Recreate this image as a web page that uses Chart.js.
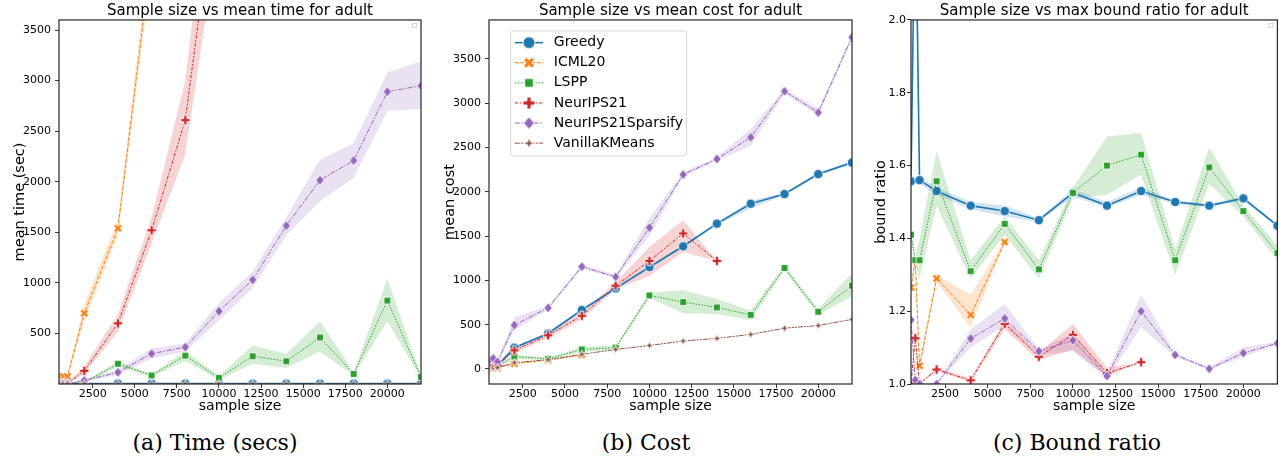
<!DOCTYPE html>
<html>
<head>
<meta charset="utf-8">
<script src="https://cdn.jsdelivr.net/npm/chart.js@4.4.1/dist/chart.umd.min.js"></script>
<style>
  body { margin: 0; background: #fff; }
  #wrap { position: relative; width: 1283px; height: 456px; overflow: hidden; }
  canvas { position: absolute; top: 0; }
  .cap { position: absolute; top: 430px; font-family: 'DejaVu Serif', serif; font-size: 22px; line-height: 26px; transform: translateX(-50%); white-space: nowrap; color: #000; }
</style>
</head>
<body>
<div id="wrap">
  <canvas id="timeChart" width="430" height="418" style="left:0px"></canvas>
  <canvas id="costChart" width="430" height="418" style="left:430px"></canvas>
  <canvas id="ratioChart" width="423" height="418" style="left:860px"></canvas>
  <div class="cap" style="left:215px">(a) Time (secs)</div>
  <div class="cap" style="left:646px">(b) Cost</div>
  <div class="cap" style="left:1077px">(c) Bound ratio</div>
</div>
<script>
// x values shared by all three panels
const sampleSizes = [500, 750, 1000, 2000, 4000, 6000, 8000, 10000, 12000, 14000, 16000, 18000, 20000, 22000];
const xTicks = [2500, 5000, 7500, 10000, 12500, 15000, 17500, 20000];
const timeTicks = [500, 1000, 1500, 2000, 2500, 3000, 3500];
const costTicks = [0, 500, 1000, 1500, 2000, 2500, 3000, 3500];
const ratioTicks = [1.0, 1.2, 1.4, 1.6, 1.8, 2.0];
const methods = ['Greedy', 'ICML20', 'LSPP', 'NeurIPS21', 'NeurIPS21Sparsify', 'VanillaKMeans'];

// (a) mean time
const greedyTime = [4, 4, 4, 4, 4, 4, 4, 4, 4, 4, 4, 4, 4, 4];
const icmlTime = [75, 75, 75, 700, 1540, 4270];
const icmlTimeLo = [60, 60, 60, 620, 1470, 4100];
const icmlTimeHi = [90, 90, 90, 790, 1620, 4450];
const lsppTime = [3, 3, 3, 15, 200, 85, 280, 60, 275, 225, 460, 100, 825, 70];
const lsppTimeLo = [0, 0, 0, 10, 170, 70, 230, 40, 200, 160, 320, 85, 620, 55];
const lsppTimeHi = [6, 6, 6, 25, 225, 100, 330, 80, 380, 300, 620, 115, 1040, 85];
const neuripsTime = [5, 5, 5, 130, 600, 1520, 2610, 5130];
const neuripsTimeLo = [0, 0, 0, 100, 520, 1390, 2270, 4500];
const neuripsTimeHi = [10, 10, 10, 170, 690, 1650, 3000, 5800];
const sparsifyTime = [5, 5, 5, 35, 115, 300, 365, 720, 1030, 1565, 2015, 2210, 2890, 2950];
const sparsifyTimeLo = [0, 0, 0, 25, 90, 255, 320, 630, 950, 1470, 1810, 2040, 2700, 2720];
const sparsifyTimeHi = [10, 10, 10, 45, 140, 350, 400, 800, 1110, 1650, 2220, 2380, 3080, 3190];
const vanillaTime = [2, 2, 2, 2, 2, 2, 2, 2, 2, 2, 2, 2, 2, 2];

// (b) mean cost
const greedyCost = [40, 40, 40, 240, 400, 665, 910, 1150, 1385, 1640, 1865, 1975, 2200, 2330];
const greedyCostLo = [30, 30, 30, 225, 385, 650, 895, 1130, 1370, 1625, 1810, 1960, 2185, 2310];
const greedyCostHi = [50, 50, 50, 255, 415, 680, 925, 1170, 1400, 1655, 1900, 1990, 2215, 2350];
const icmlCost = [8, 10, 12, 60, 100, 160];
const lsppCost = [20, 30, 30, 140, 115, 220, 240, 830, 755, 695, 610, 1140, 645, 940];
const lsppCostLo = [10, 20, 20, 110, 100, 190, 215, 800, 630, 620, 550, 1110, 610, 820];
const lsppCostHi = [30, 40, 40, 160, 130, 250, 265, 860, 890, 790, 660, 1170, 680, 1080];
const neuripsCost = [40, 40, 40, 210, 380, 600, 940, 1220, 1530, 1220];
const neuripsCostLo = [30, 30, 30, 180, 350, 560, 900, 1050, 1320, 1220];
const neuripsCostHi = [50, 50, 50, 240, 410, 640, 980, 1380, 1680, 1220];
const sparsifyCost = [100, 120, 80, 495, 690, 1155, 1040, 1595, 2195, 2370, 2615, 3135, 2895, 3745];
const sparsifyCostLo = [80, 100, 60, 440, 670, 1130, 1020, 1500, 2170, 2350, 2520, 3110, 2860, 3720];
const sparsifyCostHi = [120, 140, 100, 580, 710, 1180, 1060, 1700, 2220, 2390, 2710, 3160, 2940, 3770];
const vanillaCost = [10, 12, 15, 70, 105, 165, 220, 265, 315, 345, 390, 460, 490, 560];

// (c) max bound ratio
const greedyRatio = [1.557, 2.4, 1.56, 1.53, 1.49, 1.475, 1.45, 1.525, 1.49, 1.53, 1.50, 1.49, 1.51, 1.435];
const greedyRatioLo = [1.55, 2.2, 1.55, 1.52, 1.48, 1.46, 1.445, 1.515, 1.485, 1.52, 1.495, 1.485, 1.505, 1.43];
const greedyRatioHi = [1.565, 2.6, 1.57, 1.54, 1.5, 1.49, 1.455, 1.535, 1.5, 1.54, 1.505, 1.495, 1.515, 1.44];
const icmlRatio = [1.265, 1.34, 1.05, 1.29, 1.19, 1.39];
const icmlRatioLo = [1.26, 1.33, 1.04, 1.28, 1.155, 1.385];
const icmlRatioHi = [1.27, 1.35, 1.06, 1.3, 1.245, 1.395];
const lsppRatio = [1.41, 1.34, 1.34, 1.557, 1.31, 1.44, 1.315, 1.525, 1.6, 1.63, 1.34, 1.595, 1.475, 1.36];
const lsppRatioLo = [1.40, 1.33, 1.29, 1.49, 1.29, 1.41, 1.29, 1.51, 1.52, 1.575, 1.30, 1.55, 1.46, 1.34];
const lsppRatioHi = [1.42, 1.35, 1.40, 1.64, 1.34, 1.46, 1.34, 1.54, 1.68, 1.69, 1.37, 1.65, 1.49, 1.38];
const neuripsRatio = [1.0, 1.126, 1.0, 1.04, 1.01, 1.165, 1.075, 1.135, 1.03, 1.06];
const neuripsRatioLo = [1.0, 1.12, 1.0, 1.035, 1.005, 1.15, 1.065, 1.095, 1.02, 1.06];
const neuripsRatioHi = [1.0, 1.13, 1.0, 1.045, 1.015, 1.175, 1.085, 1.165, 1.045, 1.06];
const sparsifyRatio = [1.176, 1.011, 1.0, 1.0, 1.125, 1.18, 1.09, 1.12, 1.022, 1.2, 1.08, 1.042, 1.085, 1.112];
const sparsifyRatioLo = [1.17, 1.005, 1.0, 1.0, 1.10, 1.16, 1.08, 1.09, 1.015, 1.155, 1.075, 1.038, 1.075, 1.108];
const sparsifyRatioHi = [1.18, 1.015, 1.0, 1.0, 1.15, 1.22, 1.095, 1.14, 1.03, 1.245, 1.085, 1.046, 1.10, 1.116];

const FONT = '"DejaVu Sans", sans-serif';

const styles = {
  Greedy:            { color: '#1f77b4', dash: [],                 width: 1.6, marker: 'circle',  size: 9.5 },
  ICML20:            { color: '#ff7f0e', dash: [4, 1.5],           width: 1,   marker: 'x',       size: 9 },
  LSPP:              { color: '#2ca02c', dash: [1.5, 1.5],         width: 1,   marker: 'square',  size: 9.5 },
  NeurIPS21:         { color: '#d62728', dash: [3.5, 1.5, 1.5, 1.5], width: 1, marker: 'plus',    size: 9.5 },
  NeurIPS21Sparsify: { color: '#9467bd', dash: [5, 1.5, 1.5, 1.5], width: 1,   marker: 'diamond', size: 10 },
  VanillaKMeans:     { color: '#8c564b', dash: [5, 1, 2, 1, 2, 1], width: 1,   marker: 'star',    size: 8.5 }
};

function alpha(hex, a) {
  const n = parseInt(hex.slice(1), 16);
  return `rgba(${n >> 16},${(n >> 8) & 255},${n & 255},${a})`;
}

function markerPath(g, shape, r) {
  g.beginPath();
  if (shape === 'circle') {
    g.arc(0, 0, r, 0, Math.PI * 2);
  } else if (shape === 'square') {
    const h = r * 0.72;
    g.rect(-h, -h, 2 * h, 2 * h);
  } else if (shape === 'diamond') {
    g.moveTo(0, -r); g.lineTo(r * 0.85, 0); g.lineTo(0, r); g.lineTo(-r * 0.85, 0); g.closePath();
  } else if (shape === 'star') {
    for (let i = 0; i < 8; i++) {
      const a = -Math.PI / 2 + i * Math.PI / 4;
      const rr = i % 2 ? r * 0.4 : r;
      g.lineTo(Math.cos(a) * rr, Math.sin(a) * rr);
    }
    g.closePath();
  } else {
    // plus / x : filled cross
    const w = r * 0.34;
    const pts = [[-w, -r], [w, -r], [w, -w], [r, -w], [r, w], [w, w], [w, r], [-w, r], [-w, w], [-r, w], [-r, -w], [-w, -w]];
    const rot = shape === 'x' ? Math.PI / 4 : 0;
    pts.forEach(([px, py]) => {
      g.lineTo(px * Math.cos(rot) - py * Math.sin(rot), px * Math.sin(rot) + py * Math.cos(rot));
    });
    g.closePath();
  }
}

function makeMarker(name, scale) {
  const st = styles[name];
  const size = st.size * scale;
  const c = document.createElement('canvas');
  c.width = c.height = Math.ceil(size + 4);
  const g = c.getContext('2d');
  g.translate(c.width / 2, c.height / 2);
  markerPath(g, st.marker, size / 2);
  g.fillStyle = st.color;
  g.fill();
  g.lineWidth = 0.9;
  g.strokeStyle = '#fff';
  g.stroke();
  return c;
}

const plotMarkers = {};
const legendMarkers = {};
methods.forEach(m => { plotMarkers[m] = makeMarker(m, 1); legendMarkers[m] = makeMarker(m, 1.25); });

function toPoints(ys) {
  return ys.map((y, i) => ({ x: sampleSizes[i], y })).filter(p => p.y !== null && p.y !== undefined);
}

function buildDatasets(series) {
  const out = [];
  series.forEach(s => {
    const st = styles[s.name];
    const idx = methods.indexOf(s.name);
    if (s.lo && s.hi) {
      out.push({ label: s.name + ' lo', data: toPoints(s.lo), borderWidth: 0, pointRadius: 0, fill: false, order: 20 });
      out.push({ label: s.name + ' hi', data: toPoints(s.hi), borderWidth: 0, pointRadius: 0,
                 fill: '-1', backgroundColor: alpha(st.color, 0.2), order: 20 });
    }
    out.push({
      label: s.name, data: toPoints(s.mean),
      borderColor: st.color, backgroundColor: st.color, borderWidth: st.width, borderDash: st.dash,
      pointStyle: plotMarkers[s.name], pointRadius: 4, fill: false, tension: 0, order: 10 - idx
    });
  });
  return out;
}

const framePlugin = {
  id: 'frame',
  afterDatasetsDraw(chart, args, opts) {
    const { ctx, chartArea: a } = chart;
    ctx.save();
    ctx.strokeStyle = '#262626';
    ctx.lineWidth = 1.2;
    ctx.strokeRect(a.left, a.top, a.right - a.left, a.bottom - a.top);
    if (opts.emptyBox) {
      ctx.strokeStyle = '#d4d4d4';
      ctx.lineWidth = 1;
      ctx.strokeRect(a.right - 8.5, a.top + 3.5, 4, 4);
    }
    ctx.restore();
  }
};

const boxLegend = {
  id: 'boxLegend',
  afterDraw(chart, args, opts) {
    if (!opts.items) return;
    const { ctx, chartArea: a } = chart;
    const x0 = a.left + 21.5, y0 = a.top + 11, w = 176, h = 125;
    ctx.save();
    ctx.beginPath();
    ctx.roundRect(x0, y0, w, h, 3);
    ctx.fillStyle = 'rgba(255,255,255,0.8)';
    ctx.fill();
    ctx.strokeStyle = '#d6d6d6';
    ctx.lineWidth = 1;
    ctx.stroke();
    opts.items.forEach((name, i) => {
      const st = styles[name];
      const y = y0 + 11.7 + i * 20.1;
      ctx.beginPath();
      ctx.setLineDash(st.dash);
      ctx.strokeStyle = st.color;
      ctx.lineWidth = st.width;
      ctx.moveTo(x0 + 4.3, y);
      ctx.lineTo(x0 + 32.6, y);
      ctx.stroke();
      ctx.setLineDash([]);
      const m = legendMarkers[name];
      ctx.drawImage(m, x0 + 18.5 - m.width / 2, y - m.height / 2);
      ctx.fillStyle = '#000';
      ctx.font = '14px ' + FONT;
      ctx.textBaseline = 'middle';
      ctx.fillText(name, x0 + 43.3, y);
    });
    ctx.restore();
  }
};

function makeChart(id, datasets, cfg) {
  return new Chart(document.getElementById(id), {
    type: 'line',
    data: { datasets },
    plugins: [framePlugin, boxLegend],
    options: {
      responsive: false,
      animation: false,
      events: [],
      layout: { padding: { left: 0, right: cfg.padRight, top: 0, bottom: 0 } },
      plugins: {
        legend: { display: false },
        tooltip: { enabled: false },
        title: {
          display: true, text: cfg.title, fullSize: false, color: '#000',
          font: { family: FONT, size: 15, weight: 'normal', lineHeight: 1.13 },
          padding: { top: 3, bottom: 0 }
        },
        frame: { emptyBox: cfg.emptyBox },
        boxLegend: { items: cfg.legend }
      },
      scales: {
        x: {
          type: 'linear', min: 500, max: 22000,
          afterFit: s => { s.height = 34; },
          afterBuildTicks: s => { s.ticks = xTicks.map(v => ({ value: v })); },
          border: { display: false },
          grid: { drawOnChartArea: false, drawTicks: true, tickLength: 4, color: '#333' },
          ticks: { color: '#000', font: { family: FONT, size: 11 }, padding: 0, maxRotation: 0, autoSkip: false,
                   callback: v => String(v) },
          title: { display: true, text: 'sample size', color: '#000', font: { family: FONT, size: 14 },
                   padding: { top: 0, bottom: 3 } }
        },
        y: {
          type: 'linear', min: cfg.yMin, max: cfg.yMax,
          afterFit: s => { s.width = cfg.yWidth; },
          afterBuildTicks: s => { s.ticks = cfg.yTicks.map(v => ({ value: v })); },
          border: { display: false },
          grid: { drawOnChartArea: false, drawTicks: true, tickLength: 4, color: '#333' },
          ticks: { color: '#000', font: { family: FONT, size: 11 }, padding: cfg.yPad, autoSkip: false,
                   callback: cfg.yFormat },
          title: { display: true, text: cfg.yLabel, color: '#000', font: { family: FONT, size: 14.5 },
                   padding: { top: cfg.yTitlePad, bottom: 0 } }
        }
      }
    }
  });
}

makeChart('timeChart', buildDatasets([
  { name: 'Greedy', mean: greedyTime },
  { name: 'ICML20', mean: icmlTime, lo: icmlTimeLo, hi: icmlTimeHi },
  { name: 'LSPP', mean: lsppTime, lo: lsppTimeLo, hi: lsppTimeHi },
  { name: 'NeurIPS21', mean: neuripsTime, lo: neuripsTimeLo, hi: neuripsTimeHi },
  { name: 'NeurIPS21Sparsify', mean: sparsifyTime, lo: sparsifyTimeLo, hi: sparsifyTimeHi },
  { name: 'VanillaKMeans', mean: vanillaTime }
]), {
  title: 'Sample size vs mean time for adult', yLabel: 'mean time (sec)',
  yMin: 0, yMax: 3600, yTicks: timeTicks, yFormat: v => String(v),
  yWidth: 59, yPad: 4, yTitlePad: 11.3, padRight: 9, emptyBox: true
});

makeChart('costChart', buildDatasets([
  { name: 'Greedy', mean: greedyCost, lo: greedyCostLo, hi: greedyCostHi },
  { name: 'ICML20', mean: icmlCost },
  { name: 'LSPP', mean: lsppCost, lo: lsppCostLo, hi: lsppCostHi },
  { name: 'NeurIPS21', mean: neuripsCost, lo: neuripsCostLo, hi: neuripsCostHi },
  { name: 'NeurIPS21Sparsify', mean: sparsifyCost, lo: sparsifyCostLo, hi: sparsifyCostHi },
  { name: 'VanillaKMeans', mean: vanillaCost }
]), {
  title: 'Sample size vs mean cost for adult', yLabel: 'mean cost',
  yMin: -170, yMax: 3940, yTicks: costTicks, yFormat: v => String(v),
  yWidth: 59, yPad: 4, yTitlePad: 11.3, padRight: 8, legend: methods
});

makeChart('ratioChart', buildDatasets([
  { name: 'Greedy', mean: greedyRatio, lo: greedyRatioLo, hi: greedyRatioHi },
  { name: 'ICML20', mean: icmlRatio, lo: icmlRatioLo, hi: icmlRatioHi },
  { name: 'LSPP', mean: lsppRatio, lo: lsppRatioLo, hi: lsppRatioHi },
  { name: 'NeurIPS21', mean: neuripsRatio, lo: neuripsRatioLo, hi: neuripsRatioHi },
  { name: 'NeurIPS21Sparsify', mean: sparsifyRatio, lo: sparsifyRatioLo, hi: sparsifyRatioHi }
]), {
  title: 'Sample size vs max bound ratio for adult', yLabel: 'bound ratio',
  yMin: 1.0, yMax: 2.0, yTicks: ratioTicks, yFormat: v => v.toFixed(1),
  yWidth: 51, yPad: 1, yTitlePad: 12.3, padRight: 1, emptyBox: true
});
</script>
</body>
</html>
